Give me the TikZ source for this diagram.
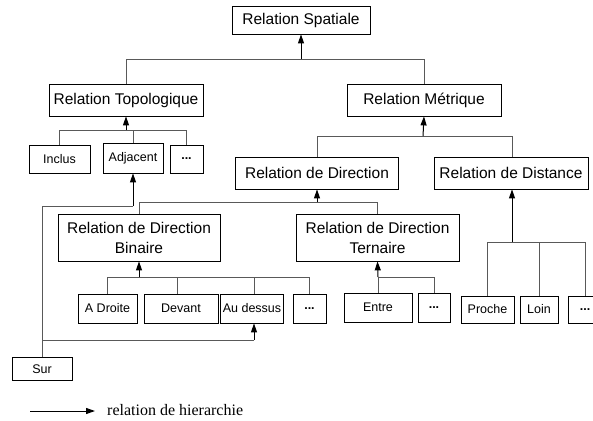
\documentclass[tikz,border=0pt]{standalone}
\usepackage{fontspec}
\setmainfont{Liberation Serif}
\newfontfamily\sansf{Liberation Sans}
\usetikzlibrary{arrows.meta}
\tikzset{
  bigbox/.style={draw, line width=0.8pt, inner sep=0pt, align=center,
    font=\sansf\fontsize{15.5}{20}\selectfont},
  smallbox/.style={draw, line width=0.8pt, inner sep=0pt, align=center,
    font=\sansf\fontsize{12.5}{15}\selectfont},
  dotsbox/.style={smallbox, font=\sansf\bfseries\fontsize{12.5}{15}\selectfont},
  link/.style={draw=black!65, line width=0.9pt},
  arr/.style={draw=black, line width=1pt, -{Triangle[length=9pt,width=6pt]}},
}
\begin{document}
\begin{tikzpicture}[x=1pt,y=-1pt]
\useasboundingbox (0,0) rectangle (593,420);
% level 0
\node[bigbox, minimum width=138pt, minimum height=28pt] (spatiale) at (301,20) {Relation Spatiale};
% level 1
\node[bigbox, minimum width=154pt, minimum height=32pt] (topo) at (126,100) {Relation Topologique};
\node[bigbox, minimum width=154pt, minimum height=32pt] (metrique) at (424,100) {Relation Métrique};
% topo children
\node[smallbox, minimum width=61pt, minimum height=28pt] (inclus) at (59.5,159) {Inclus};
\node[smallbox, minimum width=60pt, minimum height=30pt] (adjacent) at (133,158) {Adjacent};
\node[dotsbox, minimum width=33pt, minimum height=28pt] (topodots) at (186.5,159) {...};
% metrique children
\node[bigbox, minimum width=163pt, minimum height=32pt] (direction) at (317,173) {Relation de Direction};
\node[bigbox, minimum width=154pt, minimum height=32pt] (distance) at (511,173) {Relation de Distance};
% direction children
\node[bigbox, minimum width=162pt, minimum height=47pt] (binaire) at (139,237.5) {Relation de Direction\\Binaire};
\node[bigbox, minimum width=163pt, minimum height=47pt] (ternaire) at (377.5,237.5) {Relation de Direction\\Ternaire};
% binaire children
\node[smallbox, minimum width=59pt, minimum height=29pt] (adroite) at (107.5,308.5) {A Droite};
\node[smallbox, minimum width=74pt, minimum height=29pt] (devant) at (181,308.5) {Devant};
\node[smallbox, minimum width=63pt, minimum height=29pt] (audessus) at (252,308.5) {Au dessus};
\node[dotsbox, minimum width=33pt, minimum height=29pt] (bindots) at (309.5,308.5) {...};
% ternaire children
\node[smallbox, minimum width=68pt, minimum height=29pt] (entre) at (378,307.5) {Entre};
\node[dotsbox, minimum width=32pt, minimum height=29pt] (terdots) at (434,307.5) {...};
% distance children
\node[smallbox, minimum width=53pt, minimum height=27pt] (proche) at (487.5,309.5) {Proche};
\node[smallbox, minimum width=38pt, minimum height=27pt] (loin) at (539,309.5) {Loin};
\node[dotsbox, minimum width=34pt, minimum height=27pt] (disdots) at (585,309.5) {...};
% Sur
\node[smallbox, minimum width=60pt, minimum height=23pt] (sur) at (42,369) {Sur};

% junction coordinates
\coordinate (js) at (301,59);
\coordinate (jt) at (126,130);
\coordinate (jm) at (423,136);
\coordinate (jd) at (317,202);
\coordinate (jdist) at (512,242);
\coordinate (jb) at (139,277);
\coordinate (jter) at (378,277);
\coordinate (sa) at (42,206);
\coordinate (sb) at (42,340);

% spatiale
\draw[link] (topo.north) -- (topo.north |- js) -- (metrique.north |- js) -- (metrique.north);
\draw[arr] (js) -- (spatiale.south);
% topologique
\draw[link] (inclus.north) -- (inclus.north |- jt) -- (topodots.north |- jt) -- (topodots.north);
\draw[link] (adjacent.north) -- (adjacent.north |- jt);
\draw[arr] (jt) -- (topo.south);
% metrique
\draw[link] (direction.north) -- (direction.north |- jm) -- ([xshift=1pt]distance.north |- jm) -- ([xshift=1pt]distance.north);
\draw[arr] (jm) -- (metrique.south);
% direction
\draw[link] (binaire.north) -- (binaire.north |- jd) -- (ternaire.north |- jd) -- (ternaire.north);
\draw[arr] (jd) -- (direction.south);
% distance
\draw[link] (proche.north) -- (proche.north |- jdist) -- (disdots.north |- jdist) -- (disdots.north);
\draw[link] (loin.north) -- (loin.north |- jdist);
\draw[arr] (jdist) -- ([xshift=1pt]distance.south);
% binaire
\draw[link] (adroite.north) -- (adroite.north |- jb) -- (bindots.north |- jb) -- (bindots.north);
\draw[link] ([xshift=-4pt]devant.north) -- ([xshift=-4pt]devant.north |- jb);
\draw[link] ([xshift=2pt]audessus.north) -- ([xshift=2pt]audessus.north |- jb);
\draw[arr] (jb) -- (binaire.south);
% ternaire
\draw[link] (entre.north) -- (entre.north |- jter) -- (terdots.north |- jter) -- (terdots.north);
\draw[arr] (jter) -- (ternaire.south);
% sur
\draw[link] (sur.north) -- (sa) -- (adjacent.south |- sa);
\draw[arr] (adjacent.south |- sa) -- (adjacent.south);
\draw[link] (sb) -- ([xshift=2pt]audessus.south |- sb);
\draw[arr] ([xshift=2pt]audessus.south |- sb) -- ([xshift=2pt]audessus.south);

% legend
\coordinate (la) at (30,411);
\coordinate (lb) at (95,411);
\draw[arr] (la) -- (lb);
\node[anchor=west, inner sep=0pt, font=\fontsize{16}{19}\selectfont] (legend) at (107,410) {relation de hierarchie};
\end{tikzpicture}
\end{document}
